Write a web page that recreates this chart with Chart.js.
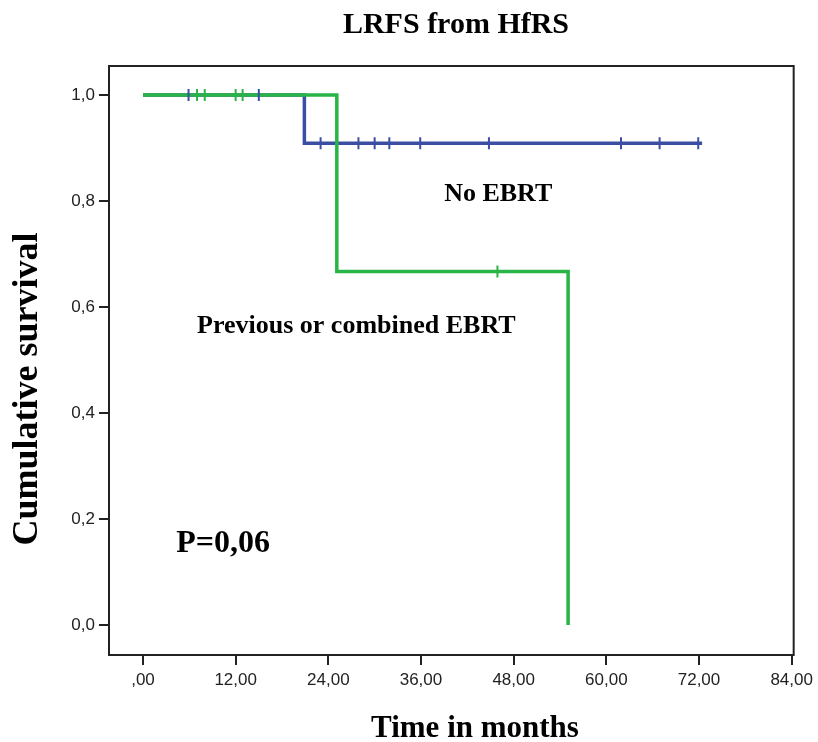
<!DOCTYPE html>
<html>
<head>
<meta charset="utf-8">
<script src="https://cdn.jsdelivr.net/npm/chart.js@4"></script>
<style>
  html, body { margin: 0; padding: 0; background: #fff; }
  #wrap { width: 818px; height: 742px; }
</style>
</head>
<body>
<div id="wrap"><canvas id="kmChart" width="818" height="742"></canvas></div>
<script>
// Courbe "No EBRT" (bleue)
const noEbrtTimes = [0, 20.9, 72.4];
const noEbrtSurv = [1, 0.909, 0.909];
const noEbrtCensorTimes = [5.9, 15.0, 23.0, 27.9, 30.0, 31.9, 35.9, 44.8, 61.9, 66.9, 71.9];
const noEbrtCensorSurv = [1, 1, 0.909, 0.909, 0.909, 0.909, 0.909, 0.909, 0.909, 0.909, 0.909];

// Courbe "Previous or combined EBRT" (verte)
const ebrtTimes = [0, 25.1, 55.05];
const ebrtSurv = [1, 0.667, 0];
const ebrtCensorTimes = [7.0, 8.0, 12.0, 12.9, 45.9];
const ebrtCensorSurv = [1, 1, 1, 1, 0.667];

// Graduations
const xTicks = [0, 12, 24, 36, 48, 60, 72, 84];
const yTicks = [0, 0.2, 0.4, 0.6, 0.8, 1.0];

const blue = 'rgb(58, 78, 164)';
const green = 'rgb(40, 180, 70)';
const serif = '"Liberation Serif", "Times New Roman", serif';

function toPoints(xs, ys) {
    return xs.map((x, i) => ({ x: x, y: ys[i] }));
}

// Cadre autour de la zone du graphique + textes
const frameAndText = {
    id: 'frameAndText',
    afterDraw(chart) {
        const c = chart.ctx;
        const a = chart.chartArea;
        const xs = chart.scales.x;
        const ys = chart.scales.y;
        c.save();
        c.strokeStyle = '#222';
        c.lineWidth = 2;
        c.strokeRect(a.left, a.top, a.right - a.left, a.bottom - a.top);

        c.fillStyle = '#000';
        c.textBaseline = 'alphabetic';
        c.textAlign = 'center';
        c.font = 'bold 30px ' + serif;
        c.fillText('LRFS from HfRS', 456, 33);
        c.font = 'bold 31px ' + serif;
        c.fillText('Time in months', 475, 737);

        c.save();
        c.translate(37, 389);
        c.rotate(-Math.PI / 2);
        c.font = 'bold 36px ' + serif;
        c.fillText('Cumulative survival', 0, 0);
        c.restore();

        c.textAlign = 'left';
        c.font = 'bold 26px ' + serif;
        c.fillText('No EBRT', xs.getPixelForValue(39.0), ys.getPixelForValue(0.8));
        c.fillText('Previous or combined EBRT', xs.getPixelForValue(7.0), ys.getPixelForValue(0.551));
        c.font = 'bold 32px ' + serif;
        c.fillText('P=0,06', xs.getPixelForValue(4.3), ys.getPixelForValue(0.138));
        c.restore();
    }
};

const ctx = document.getElementById('kmChart').getContext('2d');
const kmChart = new Chart(ctx, {
    type: 'line',
    data: {
        datasets: [
            {
                label: 'No EBRT censored',
                data: toPoints(noEbrtCensorTimes, noEbrtCensorSurv),
                showLine: false,
                pointStyle: 'line',
                rotation: 90,
                pointRadius: 6,
                borderColor: blue,
                borderWidth: 2,
                order: 0
            },
            {
                label: 'EBRT censored',
                data: toPoints(ebrtCensorTimes, ebrtCensorSurv),
                showLine: false,
                pointStyle: 'line',
                rotation: 90,
                pointRadius: 6,
                borderColor: green,
                borderWidth: 2,
                order: 0
            },
            {
                label: 'Previous or combined EBRT',
                data: toPoints(ebrtTimes, ebrtSurv),
                stepped: 'before',
                borderColor: green,
                borderWidth: 3.5,
                pointRadius: 0,
                fill: false,
                order: 1
            },
            {
                label: 'No EBRT',
                data: toPoints(noEbrtTimes, noEbrtSurv),
                stepped: 'before',
                borderColor: blue,
                borderWidth: 3.5,
                pointRadius: 0,
                fill: false,
                order: 2
            }
        ]
    },
    options: {
        responsive: false,
        animation: false,
        layout: {
            padding: { top: 66, right: 23, bottom: 0, left: 0 }
        },
        plugins: {
            legend: { display: false },
            tooltip: { enabled: false }
        },
        scales: {
            x: {
                type: 'linear',
                min: -4.4,
                max: 84.26,
                afterFit(scale) { scale.height = 87; },
                afterBuildTicks(scale) { scale.ticks = xTicks.map(v => ({ value: v })); },
                border: { display: false },
                grid: {
                    drawOnChartArea: false,
                    drawTicks: true,
                    tickLength: 10,
                    tickColor: '#222',
                    lineWidth: 2
                },
                ticks: {
                    padding: 5,
                    color: '#222',
                    font: { family: '"Liberation Sans", Arial, sans-serif', size: 17 },
                    callback: v => v === 0 ? ',00' : v.toFixed(2).replace('.', ',')
                }
            },
            y: {
                type: 'linear',
                min: -0.0566,
                max: 1.0547,
                afterFit(scale) { scale.width = 109; },
                afterBuildTicks(scale) { scale.ticks = yTicks.map(v => ({ value: v })); },
                border: { display: false },
                grid: {
                    drawOnChartArea: false,
                    drawTicks: true,
                    tickLength: 10,
                    tickColor: '#222',
                    lineWidth: 2
                },
                ticks: {
                    padding: 4,
                    color: '#222',
                    font: { family: '"Liberation Sans", Arial, sans-serif', size: 17 },
                    callback: v => v.toFixed(1).replace('.', ',')
                }
            }
        }
    },
    plugins: [frameAndText]
});
</script>
</body>
</html>
